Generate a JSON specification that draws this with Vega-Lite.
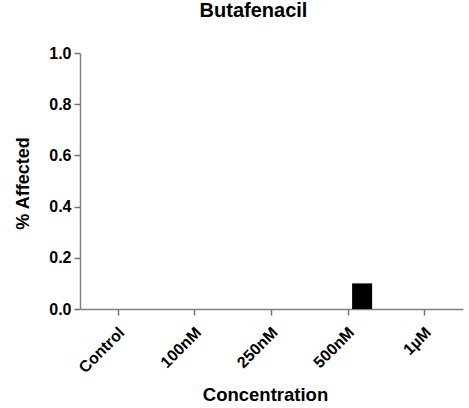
{
  "$schema": "https://vega.github.io/schema/vega-lite/v6.json",
  "width": 383,
  "height": 256,
  "autosize": {"type": "none"},
  "padding": {"left": 80, "top": 53, "right": 6, "bottom": 99},
  "background": "white",
  "title": {
    "text": "Butafenacil",
    "font": "Liberation Sans",
    "fontSize": 20,
    "fontWeight": "bold",
    "color": "black",
    "anchor": "middle",
    "dx": -18,
    "offset": 24
  },
  "data": {
    "values": [
      {"concentration": "Control", "series": "A", "affected": 0},
      {"concentration": "Control", "series": "B", "affected": 0},
      {"concentration": "100nM", "series": "A", "affected": 0},
      {"concentration": "100nM", "series": "B", "affected": 0},
      {"concentration": "250nM", "series": "A", "affected": 0},
      {"concentration": "250nM", "series": "B", "affected": 0},
      {"concentration": "500nM", "series": "A", "affected": 0},
      {"concentration": "500nM", "series": "B", "affected": 0.1},
      {"concentration": "1µM", "series": "A", "affected": 0},
      {"concentration": "1µM", "series": "B", "affected": 0}
    ]
  },
  "mark": {"type": "bar", "color": "black"},
  "encoding": {
    "x": {
      "field": "concentration",
      "type": "nominal",
      "sort": ["Control", "100nM", "250nM", "500nM", "1µM"],
      "scale": {"paddingInner": 0.373, "paddingOuter": 0.1865},
      "axis": {
        "title": "Concentration",
        "titleFont": "Liberation Sans",
        "titleFontSize": 18.5,
        "titleFontWeight": "bold",
        "titleColor": "black",
        "titleX": 185,
        "titleY": 91,
        "titleBaseline": "alphabetic",
        "labelFont": "Liberation Sans",
        "labelFontSize": 16,
        "labelFontWeight": "bold",
        "labelColor": "black",
        "labelAngle": -45,
        "labelAlign": "right",
        "labelBaseline": "top",
        "labelPadding": 9,
        "labelOffset": -2,
        "domainColor": "#808080",
        "domainWidth": 1.5,
        "tickColor": "#707070",
        "tickWidth": 1.5,
        "tickSize": 6,
        "grid": false
      }
    },
    "xOffset": {
      "field": "series",
      "type": "nominal",
      "scale": {"paddingInner": 0.2857, "paddingOuter": 0}
    },
    "y": {
      "field": "affected",
      "type": "quantitative",
      "scale": {"domain": [0, 1]},
      "axis": {
        "title": "% Affected",
        "titleFont": "Liberation Sans",
        "titleFontSize": 18,
        "titleFontWeight": "bold",
        "titleColor": "black",
        "titleAngle": -90,
        "titleX": -52,
        "titleY": 130,
        "titleAlign": "center",
        "titleBaseline": "alphabetic",
        "values": [0, 0.2, 0.4, 0.6, 0.8, 1.0],
        "format": ".1f",
        "labelFont": "Liberation Sans",
        "labelFontSize": 16,
        "labelFontWeight": "bold",
        "labelColor": "black",
        "labelPadding": 3,
        "domainColor": "#808080",
        "domainWidth": 1.5,
        "tickColor": "#707070",
        "tickWidth": 1.5,
        "tickSize": 6,
        "grid": false
      }
    }
  },
  "config": {"view": {"stroke": null}}
}
